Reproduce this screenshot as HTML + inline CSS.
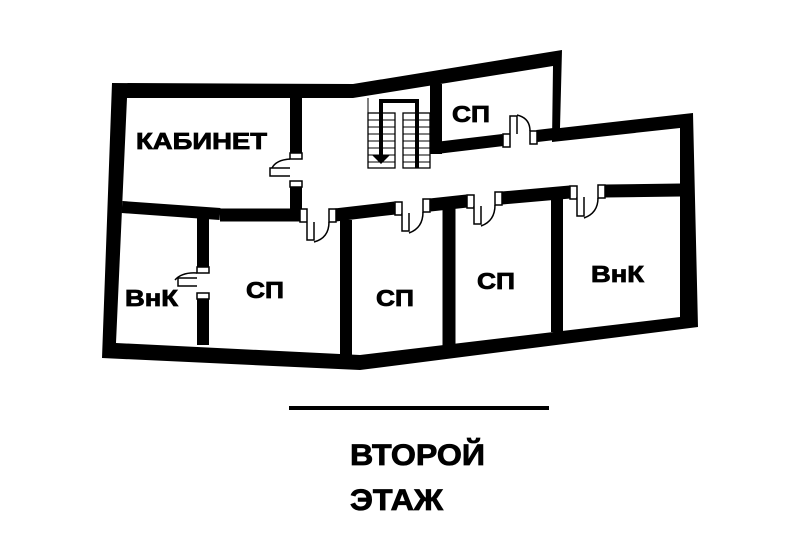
<!DOCTYPE html>
<html><head><meta charset="utf-8"><style>
html,body{margin:0;padding:0;background:#fff;width:800px;height:536px;overflow:hidden}
text{font-family:"Liberation Sans","DejaVu Sans",sans-serif;font-weight:bold;fill:#000;stroke:#000;stroke-width:0.8}
</style></head><body>
<svg width="800" height="536" viewBox="0 0 800 536" xmlns="http://www.w3.org/2000/svg">
<path fill-rule="evenodd" fill="#000" d="M112,83 L353,84 L562,50 L560,128 L693,113 L698,327 L360,370 L102,358 Z
 M127,98 L353,98 L553,66 L552,142 L680,128 L680,317 L360,355 L116,343 Z"/>
<g stroke="#000" fill="none" stroke-linecap="butt">
<line x1="122" y1="207" x2="220" y2="214" stroke-width="12"/>
<line x1="220" y1="215" x2="300" y2="215" stroke-width="13"/>
<line x1="335" y1="215" x2="395" y2="208" stroke-width="13"/>
<line x1="430" y1="205" x2="467" y2="201" stroke-width="13"/>
<line x1="502" y1="198" x2="570" y2="192" stroke-width="13"/>
<line x1="605" y1="191" x2="681" y2="190" stroke-width="13"/>
<line x1="296" y1="98" x2="296" y2="154" stroke-width="12"/>
<line x1="296" y1="186" x2="296" y2="210" stroke-width="12"/>
<line x1="203" y1="213" x2="203" y2="268" stroke-width="12"/>
<line x1="203" y1="298" x2="203" y2="345" stroke-width="12"/>
<line x1="346" y1="220" x2="346" y2="358" stroke-width="12"/>
<line x1="449" y1="208" x2="449" y2="346" stroke-width="13"/>
<line x1="557" y1="196" x2="557" y2="332" stroke-width="12"/>
<line x1="436" y1="84" x2="436" y2="154" stroke-width="12"/>
<line x1="436" y1="148" x2="503" y2="140" stroke-width="12"/>
<line x1="537" y1="136" x2="554" y2="134" stroke-width="12"/>
</g>
<g stroke="#000" stroke-width="1.5" fill="#fff">
<rect x="290" y="153" width="12" height="6"/><rect x="290" y="181" width="12" height="6"/>
<path d="M290,168 L270,168 L270,176 L290,176" /><path d="M290,159 Q276,160 272,168" fill="none"/>
<rect x="197" y="267" width="12" height="6"/><rect x="197" y="293" width="12" height="6"/>
<path d="M197,278 L178,278 L178,286 L197,286"/><path d="M197,273 Q182,272 175,280" fill="none"/>
<rect x="300" y="209" width="7" height="13"/><rect x="329" y="209" width="7" height="13"/>
<path d="M307,222 L307,240 L314,240 L314,222"/><path d="M329,222 Q329,238 314,242" fill="none"/>
<rect x="395" y="202" width="7" height="13"/><rect x="423" y="199" width="7" height="13"/>
<path d="M402,213 L402,231 L409,231 L409,213"/><path d="M423,212 Q423,228 409,233" fill="none"/>
<rect x="467" y="195" width="7" height="13"/><rect x="495" y="192" width="7" height="13"/>
<path d="M474,206 L474,224 L481,224 L481,206"/><path d="M495,205 Q495,221 481,226" fill="none"/>
<rect x="570" y="186" width="7" height="13"/><rect x="598" y="185" width="7" height="13"/>
<path d="M577,197 L577,216 L584,216 L584,197"/><path d="M598,198 Q598,213 584,218" fill="none"/>
<rect x="503" y="134" width="7" height="13"/><rect x="530" y="131" width="7" height="13"/>
<path d="M510,134 L510,116 L517,116 L517,134"/><path d="M530,131 Q530,118 517,115" fill="none"/>
</g>
<g stroke="#000" stroke-width="1.3" fill="#fff">
<rect x="368" y="113" width="27" height="55"/>
<rect x="403" y="113" width="27" height="55"/>
</g>
<g stroke="#000" stroke-width="1">
<path d="M368,120H395M368,127H395M368,134H395M368,141H395M368,148H395M368,155H395M368,162H395"/>
<path d="M403,120H430M403,127H430M403,134H430M403,141H430M403,148H430M403,155H430M403,162H430"/>
<line x1="368" y1="98" x2="368" y2="113"/>
</g>
<path d="M381,158 V101 H417 V168" stroke="#000" stroke-width="4" fill="none"/>
<polygon points="372,155 390,155 381,164" fill="#000"/>
<text x="136" y="149" font-size="23" textLength="131" lengthAdjust="spacingAndGlyphs">КАБИНЕТ</text>
<text x="452" y="122" font-size="23" textLength="38" lengthAdjust="spacingAndGlyphs">СП</text>
<text x="125" y="306" font-size="23" textLength="53" lengthAdjust="spacingAndGlyphs">ВнК</text>
<text x="246" y="298" font-size="23" textLength="38" lengthAdjust="spacingAndGlyphs">СП</text>
<text x="376" y="306" font-size="23" textLength="38" lengthAdjust="spacingAndGlyphs">СП</text>
<text x="477" y="289" font-size="23" textLength="38" lengthAdjust="spacingAndGlyphs">СП</text>
<text x="591" y="282" font-size="23" textLength="53" lengthAdjust="spacingAndGlyphs">ВнК</text>
<line x1="289" y1="408" x2="549" y2="408" stroke="#000" stroke-width="4"/>
<text x="350" y="465" font-size="30" textLength="135" lengthAdjust="spacingAndGlyphs">ВТОРОЙ</text>
<text x="350" y="510" font-size="30" textLength="93" lengthAdjust="spacingAndGlyphs">ЭТАЖ</text>
</svg>
</body></html>
